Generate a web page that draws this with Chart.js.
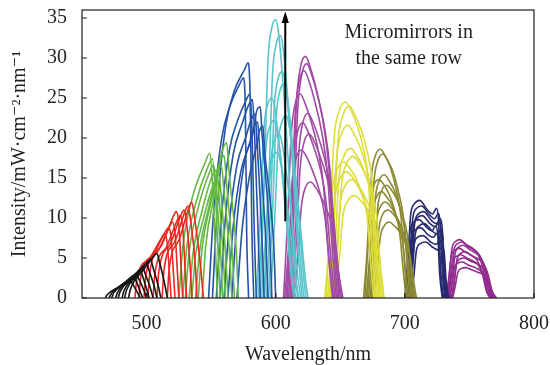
<!DOCTYPE html>
<html>
<head>
<meta charset="utf-8">
<script src="https://cdn.jsdelivr.net/npm/chart.js@4.4.1/dist/chart.umd.min.js"></script>
<style>
  html, body { margin: 0; padding: 0; background: #fff; }
  #wrap { width: 550px; height: 365px; }
</style>
</head>
<body>
<div id="wrap"><canvas id="cnv_spectra"></canvas></div>
<script>
// axis ticks
const xTicks = [500, 600, 700, 800];
const yTicks = [0, 5, 10, 15, 20, 25, 30, 35];

// arrow: wavelength, from intensity, to intensity
const arrowAt = [607.4, 9.6, 35.8];
const noteLines = ['Micromirrors in', 'the same row'];
const noteAt = [703, 33.1];

// each group: one x list and one y list per micromirror spectrum
const blackX = [
  [468, 469.5, 477.5, 485, 487, 489, 493.5, 495],
  [471, 472.5, 480.5, 488, 490, 492, 495.5, 497],
  [473, 474.5, 482.5, 490, 492, 494, 498.5, 500],
  [476, 477.5, 485.5, 493, 495, 497, 500.5, 502],
  [478, 479.5, 487.5, 495, 497, 499, 503.5, 505],
  [481, 482.5, 490.5, 498, 500, 502, 506.5, 508],
  [483, 484.5, 493, 501, 503, 505, 509.5, 511],
  [486, 487.5, 497, 506, 508, 510, 514.5, 516]
];
const blackY = [
  [0, 0.4, 1.3, 2.1, 2.2, 1.8, 0.5, 0],
  [0, 0.5, 1.6, 2.5, 2.6, 2.1, 0.6, 0],
  [0, 0.6, 1.8, 2.85, 3.0, 2.4, 0.75, 0],
  [0, 0.7, 2.0, 3.2, 3.4, 2.7, 0.85, 0],
  [0, 0.8, 2.3, 3.6, 3.8, 3.0, 0.95, 0],
  [0, 0.9, 2.6, 4.1, 4.3, 3.4, 1.1, 0],
  [0, 1.0, 2.9, 4.55, 4.8, 3.8, 1.2, 0],
  [0, 1.1, 3.4, 5.3, 5.6, 4.5, 1.4, 0]
];

const redX = [
  [491, 492.5, 502.5, 512, 514, 516, 518, 519],
  [494, 495.5, 505.5, 515, 517, 519, 521, 522],
  [498, 499.5, 509, 518, 520, 522, 524, 525],
  [501, 502.5, 512, 521, 523, 525, 527, 528],
  [505, 506.5, 515.5, 524, 526, 528, 530, 531],
  [508, 509.5, 518.5, 527, 529, 531, 534, 535],
  [512, 513.5, 522, 530, 532, 534, 538, 539],
  [516, 517.5, 525.5, 533, 535, 537, 542, 544]
];
const redY = [
  [0, 2.4, 5.0, 7.6, 8.0, 6.8, 2.4, 0],
  [0, 2.6, 5.5, 8.4, 8.8, 7.5, 2.6, 0],
  [0, 2.9, 5.9, 9.0, 9.5, 8.1, 2.9, 0],
  [0, 3.2, 6.7, 10.3, 10.8, 9.2, 3.2, 0],
  [0, 3.1, 6.4, 9.8, 10.3, 8.8, 3.1, 0],
  [0, 3.3, 6.8, 10.5, 11.0, 9.4, 3.3, 0],
  [0, 3.5, 7.1, 10.9, 11.5, 9.8, 3.5, 0],
  [0, 3.6, 7.4, 11.4, 12.0, 10.2, 3.6, 0]
];

const greenX = [
  [525, 528, 535, 545, 549, 551, 553.5, 555],
  [528, 531, 538, 547, 551, 553, 555.5, 557],
  [530, 533, 540, 548, 552, 554, 557.5, 559],
  [533, 536, 543, 550, 554, 556, 559.5, 561],
  [535, 538, 545, 552, 556, 558, 561.5, 563],
  [538, 541, 548, 554, 558, 560, 564.5, 566],
  [540, 543, 550, 556, 560, 562, 566.5, 568],
  [543, 546, 553, 558, 562, 564, 569.5, 571]
];
const greenY = [
  [0, 6.3, 12.3, 16.8, 18.1, 14.5, 5.4, 0],
  [0, 6.1, 11.8, 16.2, 17.4, 13.9, 5.2, 0],
  [0, 5.8, 11.3, 15.4, 16.6, 13.3, 5.0, 0],
  [0, 5.6, 10.9, 14.9, 16.0, 12.8, 4.8, 0],
  [0, 5.4, 10.5, 14.3, 15.4, 12.3, 4.6, 0],
  [0, 5.8, 11.2, 15.3, 16.5, 13.2, 5.0, 0],
  [0, 6.2, 12.1, 16.6, 17.8, 14.2, 5.3, 0],
  [0, 6.8, 13.2, 18.0, 19.4, 15.5, 5.8, 0]
];

const blueX = [
  [548, 552, 558, 565, 572, 575, 576.5, 577.5, 579],
  [551, 555, 561, 568, 575.7, 578.7, 580.2, 581.5, 583],
  [554, 558, 564, 571, 577, 580, 581.5, 583.5, 585],
  [557, 561, 567, 574, 579, 582, 583.5, 586.5, 588],
  [560, 564, 570, 577, 581, 584, 585.5, 589.5, 591],
  [563, 567, 573, 580, 583, 586, 587.5, 592.5, 594],
  [566, 570, 576, 583, 585, 588, 589.5, 595.5, 597],
  [570, 574, 580, 585, 587.5, 590, 591.5, 598.5, 600]
];
const blueY = [
  [0, 11.0, 19.8, 24.2, 26.7, 27.5, 23.4, 8.3, 0],
  [0, 11.8, 21.2, 25.9, 28.5, 29.4, 25.0, 8.8, 0],
  [0, 10.2, 18.4, 22.4, 24.7, 25.5, 21.7, 7.7, 0],
  [0, 9.9, 17.9, 21.8, 24.1, 24.8, 21.1, 7.4, 0],
  [0, 9.2, 16.6, 20.2, 22.3, 23.0, 19.6, 6.9, 0],
  [0, 8.8, 15.8, 19.4, 21.3, 22.0, 18.7, 6.6, 0],
  [0, 9.6, 17.2, 21.0, 23.2, 23.9, 20.3, 7.2, 0],
  [0, 8.6, 15.5, 18.9, 20.9, 21.5, 18.3, 6.5, 0]
];

const cyanX = [
  [585, 588, 591, 594, 597, 599, 603, 608, 612, 614],
  [586.5, 589.5, 592.5, 595.5, 598.5, 600.5, 604.5, 609.5, 613.5, 615.5],
  [588, 591, 594, 597, 600, 602, 606, 611, 615, 617],
  [589, 592, 595, 598, 601, 603, 607, 612, 616, 618],
  [590.5, 593.5, 596.5, 599.5, 602.5, 604.5, 608.5, 613.5, 617.5, 619.5],
  [591.5, 594.5, 597.5, 600.5, 603.5, 605.5, 609.5, 614.5, 618.5, 620.5],
  [593, 596, 599, 602, 605, 607, 611, 616, 620, 622],
  [594.5, 597.5, 600.5, 603.5, 606.5, 608.5, 612.5, 617.5, 621.5, 623.5],
  [596, 599, 602, 605, 608, 610, 614, 619, 623, 625]
];
const cyanY = [
  [0, 10, 21.3, 24.3, 25, 24, 18.8, 10, 2.5, 0],
  [0, 8.9, 18.9, 21.5, 22.2, 21.3, 16.7, 8.9, 2.2, 0],
  [0, 13.9, 29.6, 33.8, 34.8, 33.4, 26.1, 13.9, 3.5, 0],
  [0, 7.3, 15.5, 17.7, 18.2, 17.5, 13.7, 7.3, 1.8, 0],
  [0, 8.2, 17.4, 19.9, 20.5, 19.7, 15.4, 8.2, 2.1, 0],
  [0, 13.1, 27.9, 31.8, 32.8, 31.5, 24.6, 13.1, 3.3, 0],
  [0, 11.3, 24.1, 27.5, 28.3, 27.2, 21.2, 11.3, 2.8, 0],
  [0, 10.7, 22.8, 26.0, 26.8, 25.7, 20.1, 10.7, 2.7, 0],
  [0, 9.1, 19.4, 22.1, 22.8, 21.9, 17.1, 9.1, 2.3, 0]
];

const magentaX = [
  [606, 609, 612, 615, 619, 623, 628, 633, 637, 641, 644],
  [607, 610, 613, 616, 620, 624, 629, 634, 638, 642, 645],
  [608, 611, 614, 617, 621, 625, 630, 635, 639, 643, 646],
  [609, 612, 615, 618, 622, 626, 631, 636, 640, 644, 647],
  [610, 613, 616, 619, 623, 627, 632, 637, 641, 645, 648],
  [611, 614, 617, 620, 624, 628, 633, 638, 642, 646, 649],
  [612, 615, 618, 621, 625, 629, 634, 639, 643, 647, 650],
  [613, 616, 619, 622, 626, 630, 635, 640, 644, 648, 651],
  [614, 617, 620, 623, 627, 631, 636, 641, 645, 649, 652]
];
const magentaY = [
  [0, 8.9, 20.4, 24.2, 25.5, 24.2, 21.7, 18.4, 14.0, 5.1, 0],
  [0, 6.5, 14.8, 17.6, 18.5, 17.6, 15.7, 13.3, 10.2, 3.7, 0],
  [0, 7.7, 17.5, 20.8, 21.9, 20.8, 18.6, 15.8, 12.0, 4.4, 0],
  [0, 9.9, 22.7, 27.0, 28.4, 27.0, 24.1, 20.4, 15.6, 5.7, 0],
  [0, 10.6, 24.2, 28.7, 30.2, 28.7, 25.7, 21.7, 16.6, 6.0, 0],
  [0, 10.3, 23.4, 27.8, 29.3, 27.8, 24.9, 21.1, 16.1, 5.9, 0],
  [0, 8.1, 18.5, 21.9, 23.1, 21.9, 19.6, 16.6, 12.7, 4.6, 0],
  [0, 7.2, 16.4, 19.5, 20.5, 19.5, 17.4, 14.8, 11.3, 4.1, 0],
  [0, 5.1, 11.6, 13.8, 14.5, 13.8, 12.3, 10.4, 8.0, 2.9, 0]
];

const yellowX = [
  [638, 641, 644, 648, 653, 657, 662, 667, 671, 674, 676],
  [639, 642, 645, 649, 654, 658, 663, 668, 672, 675, 677],
  [640, 643, 646, 650, 655, 659, 664, 669, 673, 676, 678],
  [641, 644, 647, 651, 656, 660, 665, 670, 674, 677, 679],
  [642, 645, 648, 652, 657, 661, 666, 671, 675, 678, 680],
  [643, 646, 649, 653, 658, 662, 667, 672, 676, 679, 681],
  [644, 647, 650, 654, 659, 663, 668, 673, 677, 680, 682],
  [645, 648, 651, 655, 660, 664, 669, 674, 678, 681, 683],
  [646, 649, 652, 656, 661, 665, 670, 675, 679, 682, 684]
];
const yellowY = [
  [0, 6.0, 13.6, 16.2, 17.0, 16.3, 15.0, 12.9, 9.9, 3.4, 0],
  [0, 8.6, 19.6, 23.3, 24.5, 23.5, 21.6, 18.6, 14.2, 4.9, 0],
  [0, 5.5, 12.6, 15.0, 15.8, 15.2, 13.9, 12.0, 9.2, 3.2, 0],
  [0, 7.6, 17.3, 20.5, 21.6, 20.7, 19.0, 16.4, 12.5, 4.3, 0],
  [0, 8.4, 19.2, 22.8, 24.0, 23.0, 21.1, 18.2, 13.9, 4.8, 0],
  [0, 6.5, 15.0, 17.8, 18.7, 18.0, 16.5, 14.2, 10.8, 3.7, 0],
  [0, 5.2, 11.8, 14.1, 14.8, 14.2, 13.0, 11.2, 8.6, 3.0, 0],
  [0, 6.2, 14.2, 16.8, 17.7, 17.0, 15.6, 13.5, 10.3, 3.5, 0],
  [0, 4.5, 10.2, 12.2, 12.8, 12.3, 11.3, 9.7, 7.4, 2.6, 0]
];

const oliveX = [
  [668, 670.5, 673, 676, 680, 684, 688, 692, 696, 699, 701],
  [669, 671.5, 674, 677, 681, 685, 689, 693, 697, 700, 702],
  [670, 672.5, 675, 678, 682, 686, 690, 694, 698, 701, 703],
  [671, 673.5, 676, 679, 683, 687, 691, 695, 699, 702, 704],
  [672, 674.5, 677, 680, 684, 688, 692, 696, 700, 703, 705],
  [673, 675.5, 678, 681, 685, 689, 693, 697, 701, 704, 706],
  [674, 676.5, 679, 682, 686, 690, 694, 698, 702, 705, 707],
  [675, 677.5, 680, 683, 687, 691, 695, 699, 703, 706, 708],
  [676, 678.5, 681, 684, 688, 692, 696, 700, 704, 707, 709]
];
const oliveY = [
  [0, 5.2, 11.8, 14.1, 14.8, 14.1, 12.9, 11.0, 8.1, 3.0, 0],
  [0, 6.5, 14.9, 17.7, 18.6, 17.7, 16.2, 13.8, 10.2, 3.7, 0],
  [0, 4.7, 10.6, 12.6, 13.3, 12.6, 11.6, 9.8, 7.3, 2.7, 0],
  [0, 6.3, 14.4, 17.1, 18.0, 17.1, 15.7, 13.3, 9.9, 3.6, 0],
  [0, 5.4, 12.3, 14.6, 15.4, 14.6, 13.4, 11.4, 8.5, 3.1, 0],
  [0, 4.2, 9.6, 11.4, 12.0, 11.4, 10.4, 8.9, 6.6, 2.4, 0],
  [0, 4.9, 11.3, 13.4, 14.1, 13.4, 12.3, 10.4, 7.8, 2.8, 0],
  [0, 3.9, 8.8, 10.5, 11.0, 10.5, 9.6, 8.1, 6.1, 2.2, 0],
  [0, 3.3, 7.6, 9.0, 9.5, 9.0, 8.3, 7.0, 5.2, 1.9, 0]
];

const navyX = [
  [700, 702, 704, 707, 711, 717, 721, 724, 725.5, 727, 729],
  [700.5, 702.5, 704.5, 707.5, 711.5, 717.5, 721.5, 724.5, 726, 727.5, 729.5],
  [701, 703, 705, 708, 712, 718, 722, 725, 726.5, 728, 730],
  [702, 704, 706, 709, 713, 719, 723, 726, 727.5, 729, 731],
  [702.5, 704.5, 706.5, 709.5, 713.5, 719.5, 723.5, 726.5, 728, 729.5, 731.5],
  [703, 705, 707, 710, 714, 720, 724, 727, 728.5, 730, 732],
  [703.5, 705.5, 707.5, 710.5, 714.5, 720.5, 724.5, 727.5, 729, 730.5, 732.5],
  [704, 706, 708, 711, 715, 721, 725, 728, 729.5, 731, 733],
  [705, 707, 709, 712, 716, 722, 726, 729, 730.5, 732, 734]
];
const navyY = [
  [0, 3.9, 8.3, 9.5, 9.8, 8.8, 8.4, 9.0, 7.8, 2.9, 0],
  [0, 4.9, 10.4, 11.8, 12.2, 11.0, 10.5, 11.2, 9.8, 3.7, 0],
  [0, 3.5, 7.5, 8.5, 8.8, 7.9, 7.6, 8.1, 7.0, 2.6, 0],
  [0, 4.6, 9.8, 11.2, 11.5, 10.4, 9.9, 10.6, 9.2, 3.5, 0],
  [0, 4.1, 8.8, 10.0, 10.3, 9.3, 8.9, 9.5, 8.2, 3.1, 0],
  [0, 3.1, 6.6, 7.6, 7.8, 7.0, 6.7, 7.2, 6.2, 2.3, 0],
  [0, 4.3, 9.2, 10.5, 10.8, 9.7, 9.3, 9.9, 8.6, 3.2, 0],
  [0, 3.7, 7.9, 9.0, 9.3, 8.4, 8.0, 8.6, 7.4, 2.8, 0],
  [0, 2.8, 6.0, 6.8, 7.0, 6.3, 6.0, 6.4, 5.6, 2.1, 0]
];

const purpleX = [
  [732, 734, 736, 739, 742, 747, 752, 756, 760, 763, 766],
  [732.5, 734.5, 736.5, 739.5, 742.5, 747.5, 752.5, 756.5, 760.5, 763.5, 766.5],
  [733, 735, 737, 740, 743, 748, 753, 757, 761, 764, 767],
  [734, 736, 738, 741, 744, 749, 754, 758, 762, 765, 768],
  [734.5, 736.5, 738.5, 741.5, 744.5, 749.5, 754.5, 758.5, 762.5, 765.5, 768.5],
  [735, 737, 739, 742, 745, 750, 755, 759, 763, 766, 769],
  [736, 738, 740, 743, 746, 751, 756, 760, 764, 767, 770],
  [736.5, 738.5, 740.5, 743.5, 746.5, 751.5, 756.5, 760.5, 764.5, 767.5, 770.5],
  [737, 739, 741, 744, 747, 752, 757, 761, 765, 768, 771]
];
const purpleY = [
  [0, 2.5, 5.3, 6.0, 6.2, 5.7, 5.3, 4.7, 3.1, 0.9, 0],
  [0, 2.9, 6.2, 7.1, 7.3, 6.7, 6.2, 5.5, 3.7, 1.1, 0],
  [0, 2.2, 4.6, 5.2, 5.4, 5.0, 4.6, 4.1, 2.7, 0.8, 0],
  [0, 2.8, 6.0, 6.8, 7.0, 6.4, 6.0, 5.3, 3.5, 1.1, 0],
  [0, 1.8, 3.8, 4.4, 4.5, 4.1, 3.8, 3.4, 2.3, 0.7, 0],
  [0, 2.6, 5.6, 6.4, 6.6, 6.1, 5.6, 5.0, 3.3, 1.0, 0],
  [0, 2.0, 4.3, 4.9, 5.0, 4.6, 4.3, 3.8, 2.5, 0.8, 0],
  [0, 2.3, 4.9, 5.6, 5.8, 5.3, 4.9, 4.4, 2.9, 0.9, 0],
  [0, 1.5, 3.2, 3.7, 3.8, 3.5, 3.2, 2.9, 1.9, 0.6, 0]
];

const groups = [
  [blackX, blackY, '#141414'],
  [redX, redY, '#e8291f'],
  [greenX, greenY, '#63b943'],
  [blueX, blueY, '#2453a5'],
  [cyanX, cyanY, '#5ac4cc'],
  [magentaX, magentaY, '#a14ba5'],
  [yellowX, yellowY, '#dddd3c'],
  [oliveX, oliveY, '#8b8a33'],
  [navyX, navyY, '#262a6e'],
  [purpleX, purpleY, '#902d8f']
];

const datasets = [];
groups.forEach(([xs, ys, color]) => {
  xs.forEach((row, i) => {
    datasets.push({
      data: row.map((wl, j) => ({ x: wl, y: ys[i][j] })),
      showLine: true,
      borderColor: color,
      borderWidth: 1.6,
      pointRadius: 0,
      cubicInterpolationMode: 'monotone'
    });
  });
});

const SERIF = '"Liberation Serif", "DejaVu Serif", serif';

// frame, inward ticks, arrow and note
const decorPlugin = {
  id: 'decor',
  afterDatasetsDraw(chart) {
    const { ctx, chartArea: a, scales: { x, y } } = chart;
    ctx.save();
    ctx.strokeStyle = '#231f20';
    ctx.lineWidth = 1.2;
    ctx.strokeRect(a.left, a.top, a.right - a.left, a.bottom - a.top);
    ctx.beginPath();
    yTicks.forEach(v => {
      const py = y.getPixelForValue(v);
      ctx.moveTo(a.left, py);
      ctx.lineTo(a.left + 5, py);
    });
    xTicks.forEach(v => {
      const px = x.getPixelForValue(v);
      ctx.moveTo(px, a.bottom);
      ctx.lineTo(px, a.bottom - 5);
    });
    ctx.stroke();

    const ax = x.getPixelForValue(arrowAt[0]);
    const y0 = y.getPixelForValue(arrowAt[1]);
    const y1 = y.getPixelForValue(arrowAt[2]);
    ctx.strokeStyle = '#000';
    ctx.fillStyle = '#000';
    ctx.lineWidth = 2;
    ctx.beginPath();
    ctx.moveTo(ax, y0);
    ctx.lineTo(ax, y1 + 9);
    ctx.stroke();
    ctx.beginPath();
    ctx.moveTo(ax, y1);
    ctx.lineTo(ax - 3.6, y1 + 11.5);
    ctx.lineTo(ax + 3.6, y1 + 11.5);
    ctx.closePath();
    ctx.fill();

    ctx.font = '20px ' + SERIF;
    ctx.fillStyle = '#231f20';
    ctx.textAlign = 'center';
    ctx.textBaseline = 'middle';
    const nx = x.getPixelForValue(noteAt[0]);
    const ny = y.getPixelForValue(noteAt[1]);
    noteLines.forEach((t, i) => ctx.fillText(t, nx, ny + i * 26));
    ctx.restore();
  }
};

new Chart(document.getElementById('cnv_spectra').getContext('2d'), {
  type: 'scatter',
  data: { datasets },
  plugins: [decorPlugin],
  options: {
    responsive: true,
    maintainAspectRatio: false,
    animation: false,
    layout: { padding: { left: 0, right: 16, top: 10, bottom: 0 } },
    plugins: { legend: { display: false }, tooltip: { enabled: false } },
    scales: {
      x: {
        type: 'linear',
        min: 450,
        max: 800,
        afterBuildTicks: s => { s.ticks = xTicks.map(v => ({ value: v })); },
        afterFit: s => { s.height = 67; s.paddingLeft = 0; s.paddingRight = 0; },
        grid: { display: false, drawTicks: false },
        border: { display: false },
        ticks: { color: '#231f20', font: { family: SERIF, size: 20 }, padding: 14, maxRotation: 0 },
        title: { display: true, text: 'Wavelength/nm', color: '#231f20', font: { family: SERIF, size: 20 }, padding: { top: 0, bottom: -2 } }
      },
      y: {
        min: 0,
        max: 36,
        afterBuildTicks: s => { s.ticks = yTicks.map(v => ({ value: v })); },
        afterFit: s => { s.width = 82; s.paddingTop = 0; s.paddingBottom = 0; },
        grid: { display: false, drawTicks: false },
        border: { display: false },
        ticks: { color: '#231f20', font: { family: SERIF, size: 20, lineHeight: 1 }, padding: 15 },
        title: { display: true, text: 'Intensity/mW·cm⁻²·nm⁻¹', color: '#231f20', font: { family: SERIF, size: 20 }, padding: { top: 8, bottom: 0 } }
      }
    }
  }
});
</script>
</body>
</html>
